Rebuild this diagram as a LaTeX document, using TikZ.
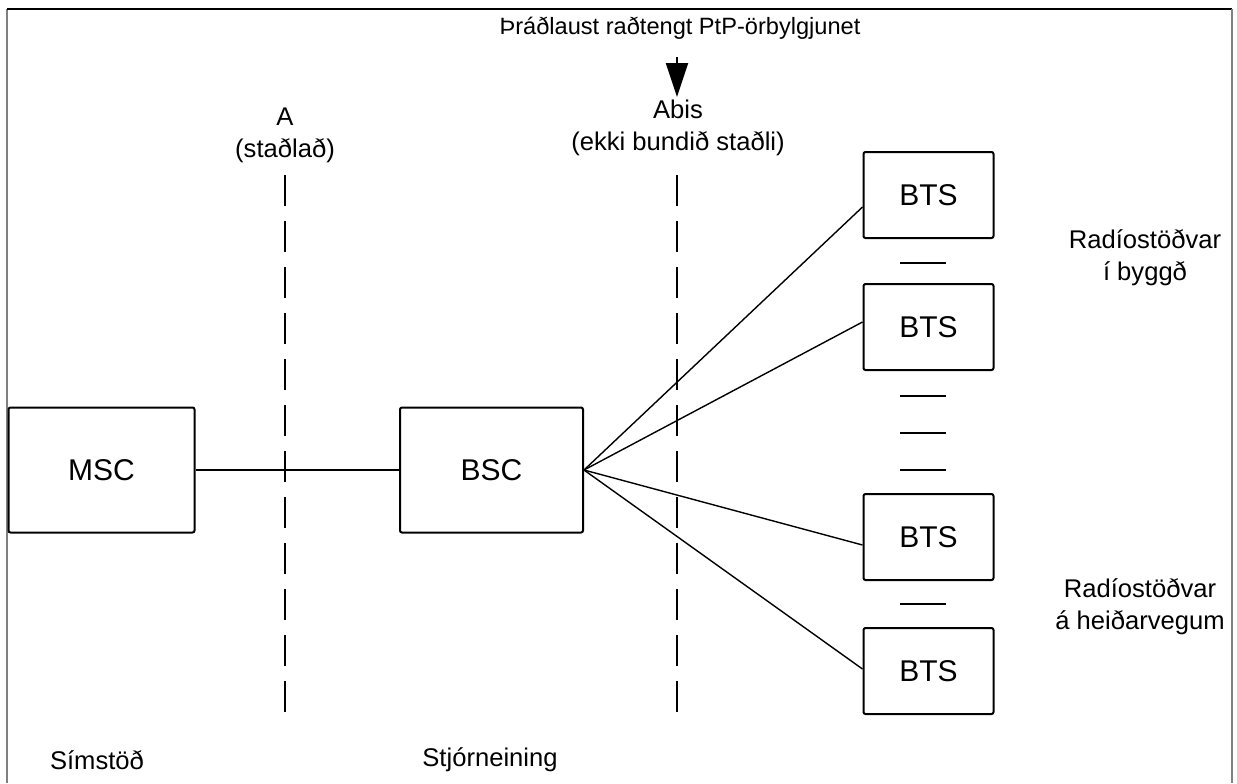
\documentclass[tikz,border=0pt]{standalone}
\usepackage{fontspec}
\setmainfont{Liberation Sans}
\usetikzlibrary{positioning,arrows.meta}
\tikzstyle{box}=[draw,rectangle,line width=1pt,rounded corners=1pt,minimum
width=93pt,minimum height=62.5pt,font=\fontsize{15}{18}\selectfont]
\tikzstyle{bts}=[box,minimum width=65pt,minimum height=43pt]
\tikzstyle{lbl}=[align=center,inner sep=0pt,font=\fontsize{12.8}{16}\selectfont]
\tikzstyle{iface}=[line width=0.9pt,dash pattern=on 15.5pt off 7.5pt]
\tikzstyle{link}=[line width=0.7pt]

\begin{document}
\begin{tikzpicture}[x=0.5pt, y=-0.5pt, node distance=195pt, on grid]
  \useasboundingbox (0,0) rectangle (1237,783);

  % frame
  \draw[gray, line width=1pt] (7,783) -- (7,9);
  \draw[line width=0.8pt] (7,9) -- (1232,9);
  \draw[gray, line width=1pt] (1232,9) -- (1232,783);

  \node[box] (msc) at (101.5,470) {MSC};
  \node[box, minimum width=91.5pt, right=of msc] (bsc) {BSC};

  \node[bts] (bts1) at (928.5,195) {BTS};
  \node[bts, below=66pt of bts1] (bts2) {BTS};
  \node[bts, below=105pt of bts2] (bts3) {BTS};
  \node[bts, below=67pt of bts3] (bts4) {BTS};

  % interfaces
  \node[lbl] (a) at (285,135) {A\\(staðlað)};
  \coordinate (a top) at (285,175);
  \coordinate (a bot) at (285,722);
  \node[lbl] (abis) at (678,128) {Abis\\(ekki bundið staðli)};
  \coordinate (abis top) at (677,175);
  \coordinate (abis bot) at (677,722);
  \draw[iface] (a top) -- (a bot) (abis top) -- (abis bot);

  \node[font=\fontsize{11.8}{14}\selectfont] (title) at (680,28)
    {Þráðlaust raðtengt PtP-örbylgjunet};
  \coordinate (stem) at (677,57);
  \coordinate (tip) at (677,97);
  \draw[line width=1pt, -{Triangle[length=17pt,width=11pt]}] (stem) -- (tip);

  \draw[link] (msc) -- (bsc);
  \draw[link] (bsc.east) -- ([yshift=-6pt]bts1.west);
  \draw[link] (bsc.east) -- ([yshift=2.5pt]bts2.west);
  \draw[link] (bsc.east) -- ([yshift=-4pt]bts3.west);
  \draw[link] (bsc.east) -- ([yshift=1pt]bts4.west);

  \foreach \y in {263,396,433,470,604}
    \draw[link] (900,\y) -- (946,\y);

  \node[lbl] (town) at (1145,258) {Radíostöðvar\\í byggð};
  \node[lbl] (pass) at (1140,607) {Radíostöðvar\\á heiðarvegum};
  \node[lbl] (exch) at (97,760) {Símstöð};
  \node[lbl] (ctrl) at (490,760) {Stjórneining};
\end{tikzpicture}
\end{document}
